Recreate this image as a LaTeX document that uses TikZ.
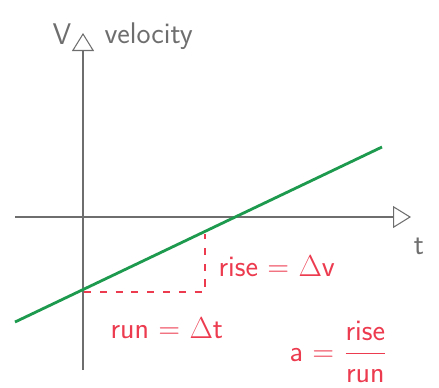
\documentclass[tikz,border=0pt]{standalone}
\usetikzlibrary{arrows.meta}
\definecolor{cgrey}{HTML}{6E6E6E}
\definecolor{cgreen}{HTML}{1E9A4E}
\definecolor{cred}{HTML}{EC3A4E}
\tikzset{
  every picture/.style={font=\sffamily, line width=0.6pt},
  axis/.style={draw=cgrey, line width=0.6pt, -{Triangle[open, length=3.6mm, width=4.4mm]}},
  graph/.style={draw=cgreen, line width=1.6pt},
  guide/.style={draw=cred, line width=1.1pt, dash pattern=on 4pt off 5pt},
  label/.style={text=cgrey, font=\sffamily\fontsize{17}{19}\selectfont, inner sep=0pt},
  note/.style={text=cred, font=\sffamily\fontsize{17}{19}\selectfont, inner sep=0pt},
}

\begin{document}
\begin{tikzpicture}[x=0.02cm, y=-0.02cm]
  \useasboundingbox (0,0) rectangle (439,387);
  % axes
  \coordinate (ybot) at (83,370);
  \coordinate (ytop) at (83,33);
  \coordinate (xleft) at (15,217);
  \coordinate (xright) at (411,217);
  \draw[axis] (ybot) -- (ytop);
  \draw[axis] (xleft) -- (xright);
  \node[label] (vlab) at (62,34) {V};
  \node[label, anchor=west] (vel) at (104,36) {velocity};
  \node[label] (tlab) at (419,246) {t};
  % velocity line
  \coordinate (gstart) at (15,322);
  \coordinate (gend) at (382,147);
  \draw[graph] (gstart) -- (gend);
  % run and rise
  \coordinate (p) at (84,292);
  \coordinate (q) at (205,292);
  \coordinate (r) at (205,234);
  \draw[guide] (p) -- (q) -- (r);
  \node[note, anchor=west] (rise) at (218,266) {rise = $\Delta$v};
  \node[note, anchor=west] (run) at (110,328) {run = $\Delta$t};
  \node[note, anchor=west] (acc) at (289,352) {a = $\displaystyle\frac{\textsf{rise}}{\textsf{run}}$};
\end{tikzpicture}
\end{document}
